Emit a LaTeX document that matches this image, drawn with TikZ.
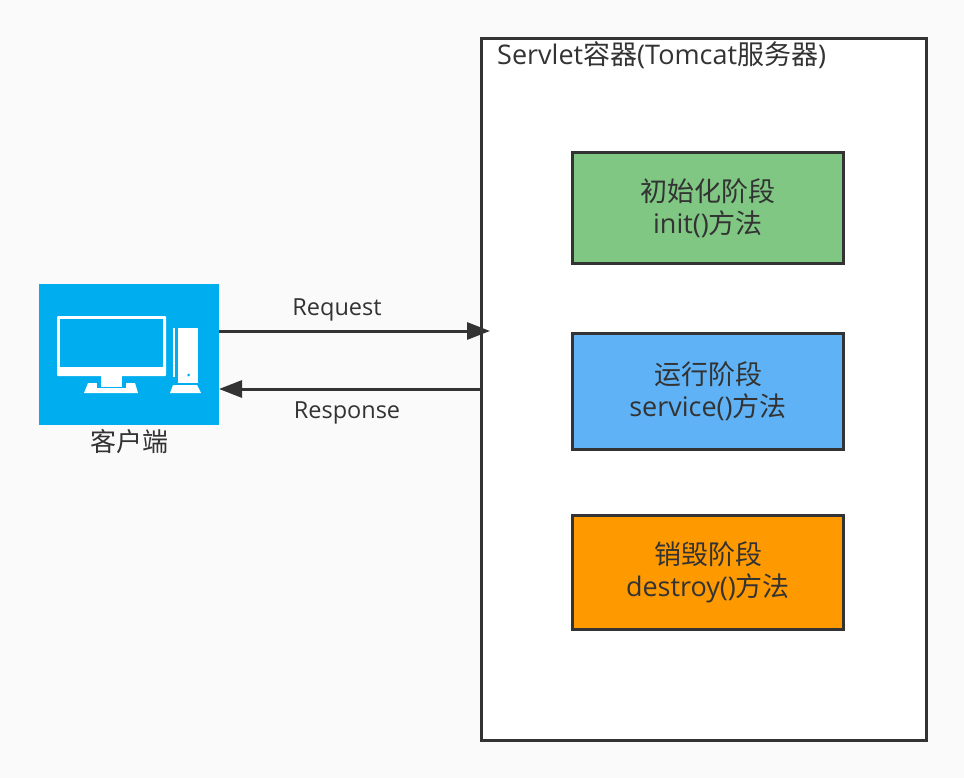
\documentclass[tikz,border=0pt]{standalone}
\usepackage{fontspec}
\setmainfont{Open Sans}
\newfontfamily\cjk{Noto Sans CJK SC}
\usetikzlibrary{positioning,arrows.meta}
\definecolor{linegray}{HTML}{333333}
\definecolor{pagegray}{HTML}{FAFAFA}
\definecolor{clientblue}{HTML}{00AEEF}
\definecolor{initgreen}{HTML}{7FC783}
\definecolor{serviceblue}{HTML}{5FB2F5}
\definecolor{destroyorange}{HTML}{FF9900}
\tikzset{
  phasebox/.style={draw=linegray, line width=3pt, minimum width=271pt, align=center, outer sep=0pt,
    text=linegray, font=\fontsize{27}{32}\selectfont},
  msglabel/.style={text=linegray, font=\fontsize{23.5}{28}\selectfont},
  msgline/.style={draw=linegray, line width=3pt, -{Triangle[length=23pt, width=17pt]}}
}
\begin{document}
\begin{tikzpicture}[x=1pt, y=-1pt]
  \useasboundingbox[fill=pagegray] (0,0) rectangle (964,778);
  \node[draw=linegray, fill=white, line width=3pt, minimum width=445pt, minimum height=702pt, outer sep=0pt] (container) at (704,389.5) {};
  \node[anchor=west, inner sep=0pt, text=linegray, font=\fontsize{27}{32}\selectfont] (title) at (497,55) {Servlet{\cjk 容器}(Tomcat{\cjk 服务器})};

  \node[phasebox, fill=initgreen, minimum height=111pt] (init) at (708,208) {{\cjk 初始化阶段}\\init(){\cjk 方法}};
  \node[phasebox, fill=serviceblue, minimum height=116pt, below=70pt of init] (service) {{\cjk 运行阶段}\\service(){\cjk 方法}};
  \node[phasebox, fill=destroyorange, minimum height=114pt, below=66pt of service] (destroy) {{\cjk 销毁阶段}\\destroy(){\cjk 方法}};

  \node[fill=clientblue, minimum width=180pt, minimum height=141pt, inner sep=0pt, outer sep=0pt] (client) at (129,354.5) {};
  \node[below=4pt of client, inner sep=0pt, text=linegray, font=\fontsize{26}{30}\selectfont\cjk] (clientlabel) {客户端};

  % computer icon
  \fill[white, rounded corners=1pt] (57,316) rectangle (166,376);
  \fill[clientblue] (60,319) rectangle (163,367);
  \fill[white] (88,383) -- (135,383) -- (138,393) -- (84,393) -- cycle;
  \fill[clientblue] (97,380) rectangle (126,388);
  \fill[white] (101,376) rectangle (122,387);
  \fill[white] (173,328) rectangle (175,377);
  \fill[white] (178,328) rectangle (198,383);
  \fill[white] (173,385) -- (197,385) -- (201,393) -- (170,393) -- cycle;
  \fill[clientblue] (188.5,375) circle (1.5);

  \coordinate (reqstart) at (client.east |- 0,331);
  \coordinate (reqend) at (490,331);
  \coordinate (respstart) at (container.west |- 0,389);
  \coordinate (respend) at (client.east |- 0,389);
  \draw[msgline] (reqstart) -- (reqend);
  \draw[msgline] (respstart) -- (respend);
  \node[msglabel] (request) at (337,310) {Request};
  \node[msglabel] (response) at (347,413) {Response};
\end{tikzpicture}
\end{document}
